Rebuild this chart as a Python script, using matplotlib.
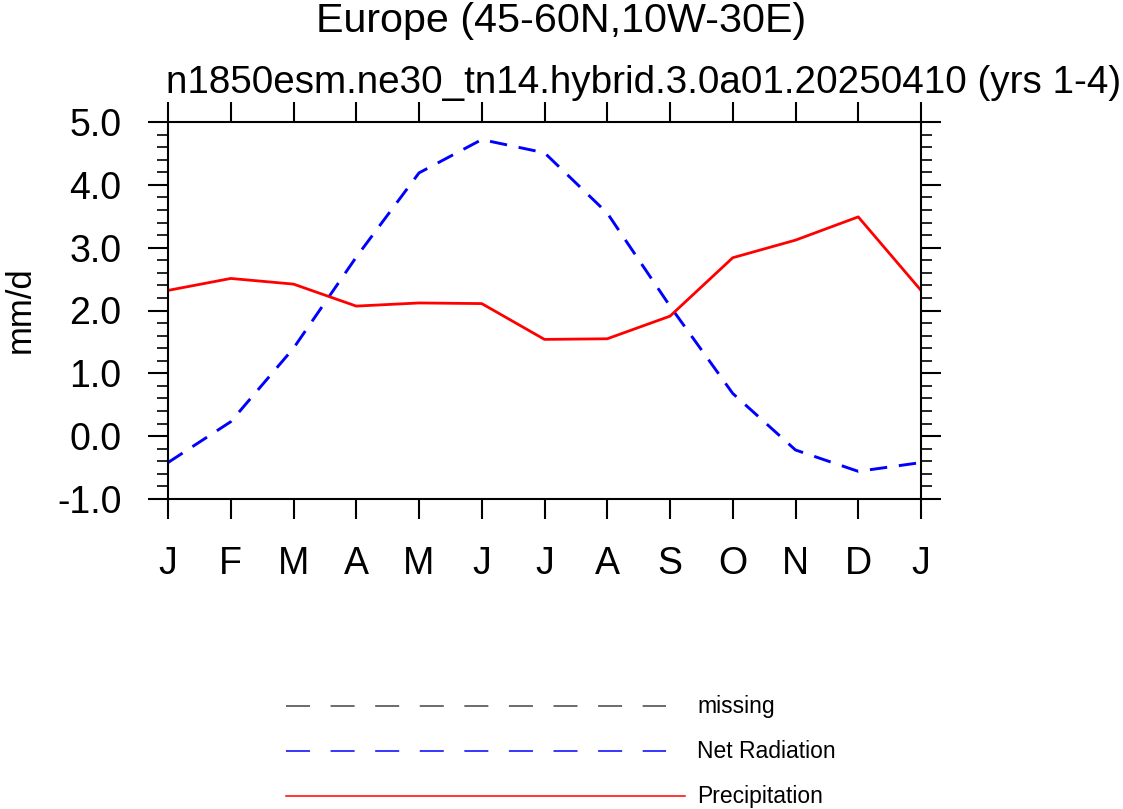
#Importing libraries
import matplotlib
matplotlib.use("Agg")
import matplotlib.pyplot as plt
from matplotlib.lines import Line2D
from matplotlib.ticker import MultipleLocator, FormatStrFormatter

#Month labels (cyclic, January repeated at the end)
months = ['J', 'F', 'M', 'A', 'M', 'J', 'J', 'A', 'S', 'O', 'N', 'D', 'J']
#Monthly means in mm/d
precip = [2.32, 2.51, 2.42, 2.07, 2.12, 2.11, 1.54, 1.55, 1.91, 2.84, 3.12, 3.49, 2.32]
netrad = [-0.42, 0.23, 1.40, 2.85, 4.19, 4.72, 4.51, 3.55, 2.07, 0.68, -0.22, -0.56, -0.42]

title = "Europe (45-60N,10W-30E)"
subtitle = "n1850esm.ne30_tn14.hybrid.3.0a01.20250410 (yrs 1-4)"
legend_labels = ['missing', 'Net Radiation', 'Precipitation']

plt.rcParams['font.family'] = ['Liberation Sans', 'DejaVu Sans']
plt.rcParams['lines.scale_dashes'] = False

W, H = 1123, 809
fig = plt.figure(figsize=(W / 100, H / 100), dpi=100)
ax = fig.add_axes([168 / W, 1 - 499 / H, (921 - 168) / W, (499 - 122) / H])

x = list(range(len(months)))
#Plotting the two curves
ax.plot(x, netrad, color='blue', lw=2.1, dashes=(12.5, 8.5))
ax.plot(x, precip, color='red', lw=2.0)

#Axes limits and ticks
ax.set_xlim(0, 12)
ax.set_ylim(-1, 5)
ax.set_xticks(x)
ax.set_xticklabels(months)
ax.yaxis.set_major_locator(MultipleLocator(1.0))
ax.yaxis.set_minor_locator(MultipleLocator(0.2))
ax.yaxis.set_major_formatter(FormatStrFormatter('%.1f'))
ax.tick_params(axis='both', which='major', direction='out', length=14.5, width=1.5,
               labelsize=27, pad=19)
ax.tick_params(axis='y', which='minor', direction='out', length=8, width=1.2)
ax.tick_params(top=True, right=True, labeltop=False, labelright=False)
ax.tick_params(axis='y', which='minor', right=True)
for s in ax.spines.values():
    s.set_linewidth(1.5)

#Titles and axis label
fig.text(561 / W, 1 - 32 / H, title, ha='center', va='baseline', fontsize=29.7)
fig.text(166 / W, 1 - 93 / H, subtitle, ha='left', va='baseline', fontsize=27.8)
fig.text(20 / W, 1 - 310 / H, 'mm/d', ha='center', va='center', rotation=90, fontsize=25)

#Legend drawn by hand
leg_y = [706, 751, 796]
leg_colors = ['#444444', 'blue', 'red']
leg_dashes = [(17.3, 14.8), (17.3, 14.8), None]
leg_end = [666, 666, 685]
for i in range(3):
    yy = 1 - leg_y[i] / H
    line = Line2D([286 / W, leg_end[i] / W], [yy, yy], transform=fig.transFigure,
                  color=leg_colors[i], lw=1.1)
    if leg_dashes[i] is not None:
        line.set_dashes(leg_dashes[i])
    fig.add_artist(line)
    fig.text(697 / W, yy, legend_labels[i], ha='left', va='center', fontsize=16.5)

fig.savefig('out.png', dpi=100)
